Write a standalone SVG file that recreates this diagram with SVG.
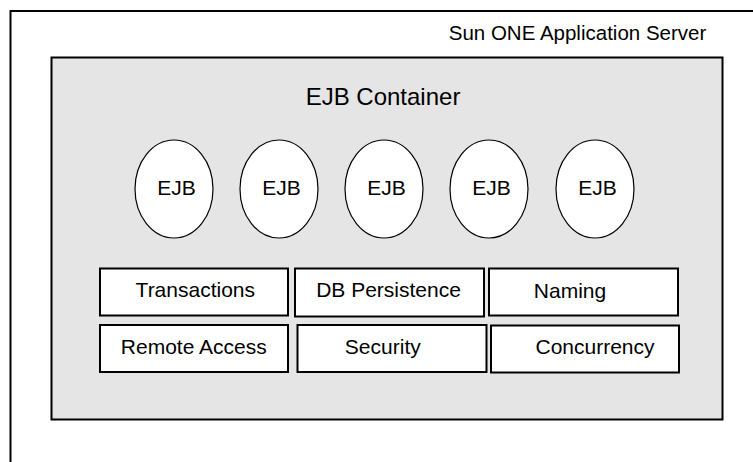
<svg xmlns="http://www.w3.org/2000/svg" width="753" height="462" viewBox="0 0 753 462">
  <style>
    text { font-family: "Liberation Sans", Arial, sans-serif; fill: #000; }
    .lbl { font-size: 21px; text-anchor: middle; }
    .box { fill: #ffffff; stroke: #000; stroke-width: 2; }
    .ejb { fill: #ffffff; stroke: #000; stroke-width: 1.2; }
  </style>
  <rect width="753" height="462" fill="#ffffff"/>
  <g id="app-server">
    <rect x="10.5" y="11" width="800" height="500" fill="#ffffff" stroke="#000" stroke-width="2"/>
    <text x="577.5" y="40" font-size="20.5" text-anchor="middle">Sun ONE Application Server</text>
  </g>
  <g id="ejb-container">
    <rect x="51.5" y="57.5" width="671" height="362" fill="#e5e5e5" stroke="#000" stroke-width="2"/>
    <text x="383" y="105" font-size="24" text-anchor="middle">EJB Container</text>
  </g>
  <g id="ejb1"><ellipse class="ejb" cx="174" cy="189" rx="39" ry="49"/><text class="lbl" x="176.5" y="195">EJB</text></g>
  <g id="ejb2"><ellipse class="ejb" cx="279" cy="189" rx="39" ry="49"/><text class="lbl" x="281.5" y="195">EJB</text></g>
  <g id="ejb3"><ellipse class="ejb" cx="384" cy="189" rx="39" ry="49"/><text class="lbl" x="386.5" y="195">EJB</text></g>
  <g id="ejb4"><ellipse class="ejb" cx="489" cy="189" rx="39" ry="49"/><text class="lbl" x="491.5" y="195">EJB</text></g>
  <g id="ejb5"><ellipse class="ejb" cx="595" cy="189" rx="39" ry="49"/><text class="lbl" x="597.5" y="195">EJB</text></g>
  <g id="transactions"><rect class="box" x="100" y="268.5" width="188" height="47"/><text class="lbl" x="195.3" y="297">Transactions</text></g>
  <g id="db-persistence"><rect class="box" x="295" y="268.5" width="189" height="48"/><text class="lbl" x="388.5" y="297">DB Persistence</text></g>
  <g id="naming"><rect class="box" x="489" y="268.5" width="189" height="47"/><text class="lbl" x="570" y="297.5">Naming</text></g>
  <g id="remote-access"><rect class="box" x="100" y="325" width="188" height="47"/><text class="lbl" x="193.8" y="354.3">Remote Access</text></g>
  <g id="security"><rect class="box" x="297.5" y="325" width="189" height="47"/><text class="lbl" x="382.8" y="354.3">Security</text></g>
  <g id="concurrency"><rect class="box" x="491" y="325.5" width="188" height="47"/><text class="lbl" x="595" y="354.3">Concurrency</text></g>
  <g id="connectors"/>
</svg>
